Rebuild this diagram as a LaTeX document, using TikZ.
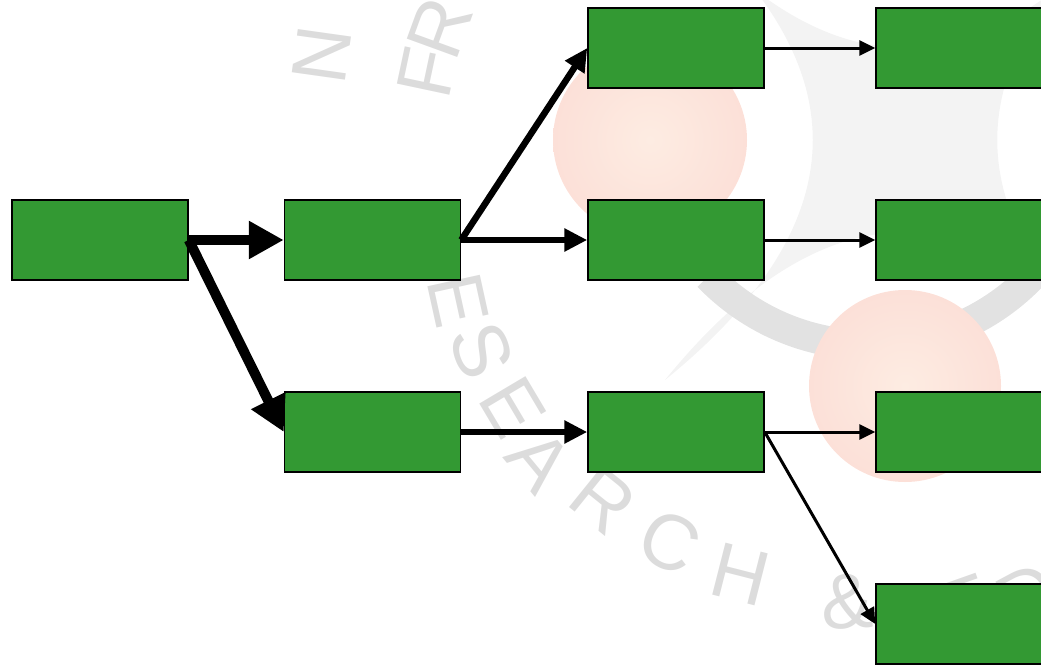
\documentclass[tikz,border=0pt]{standalone}
\usepackage{fontspec}
\setsansfont{Liberation Sans}
\usetikzlibrary{arrows.meta}
\definecolor{boxgreen}{RGB}{51,153,51}
\definecolor{wmgray}{RGB}{220,220,220}
\definecolor{wmlight}{RGB}{243,243,243}
\definecolor{wmring}{RGB}{226,226,226}
\definecolor{wmpinkin}{RGB}{253,236,226}
\definecolor{wmpinkout}{RGB}{252,224,216}
\begin{document}
\begin{tikzpicture}[x=1pt,y=-1pt,
  stepbox/.style={draw=black, line width=1.5pt, fill=boxgreen, minimum width=176pt, minimum height=80pt, inner sep=0pt},
  thickarrow/.style={line width=10pt, -{Triangle[length=35pt,width=36pt]}},
  medarrow/.style={line width=6.5pt, -{Triangle[length=23pt,width=22pt]}},
  thinarrow/.style={line width=3pt, -{Triangle[length=16pt,width=15pt]}},
  wmletter/.style={text=wmgray, font=\sffamily\fontsize{78}{78}\selectfont, inner sep=0pt},
  pinkdisc/.style={inner color=wmpinkin, outer color=wmpinkout}
]
\useasboundingbox (0,0) rectangle (1041,664);
\clip (0,0) rectangle (1041,664);
% watermark
\fill[wmlight] (665,-100) .. controls (862,60) and (862,220) .. (665,380)
  .. controls (825,183) and (985,183) .. (1145,380)
  .. controls (948,220) and (948,60) .. (1145,-100)
  .. controls (985,97) and (825,97) .. cycle;
\draw[wmring, line width=30pt] (870,120) ++(136:225) arc[start angle=136, end angle=15, radius=225];
\shade[pinkdisc] (650,140) circle[radius=97];
\shade[pinkdisc] (905,386) circle[radius=96];
\node[wmletter, rotate=82] (wN) at (322,55) {N};
\node[wmletter, rotate=78] (wF) at (427,73) {F};
\node[wmletter, rotate=70] (wR1) at (440,28) {R};
\node[wmletter, rotate=-77.6] (wE1) at (458,300) {E};
\node[wmletter, rotate=-69.5] (wS) at (482,350) {S};
\node[wmletter, rotate=-59.3] (wE2) at (513,407) {E};
\node[wmletter, rotate=-50.5] (wA) at (540,460) {A};
\node[wmletter, rotate=-38.9] (wR2) at (603,500) {R};
\node[wmletter, rotate=-26.4] (wC) at (670,542) {C};
\node[wmletter, rotate=-14.3] (wH) at (740,574) {H};
\node[wmletter, rotate=2.6] (wAmp) at (847,602) {\&};
\node[wmletter, rotate=19.5] (wD) at (965,606) {E};
\node[wmletter, rotate=28.1] (wE3) at (1028,596) {D};
% boxes
\node[stepbox] (A) at (100,240) {};
\node[stepbox] (B) at (372.5,240) {};
\node[stepbox] (C) at (372.5,432) {};
\node[stepbox] (D) at (676,48) {};
\node[stepbox] (E) at (676,240) {};
\node[stepbox] (F) at (676,432) {};
\node[stepbox] (G) at (964,48) {};
\node[stepbox] (H) at (964,240) {};
\node[stepbox] (I) at (964,432) {};
\node[stepbox] (J) at (964,624) {};
% arrows
\draw[thickarrow] (A.east) -- (B.west);
\draw[thickarrow] (A.east) -- (C.west);
\draw[medarrow] (B.east) -- (D.west);
\draw[medarrow] (B.east) -- (E.west);
\draw[medarrow] (C.east) -- (F.west);
\draw[thinarrow] (D.east) -- (G.west);
\draw[thinarrow] (E.east) -- (H.west);
\draw[thinarrow] (F.east) -- (I.west);
\draw[thinarrow] (F.east) -- (J.west);
\end{tikzpicture}
\end{document}
